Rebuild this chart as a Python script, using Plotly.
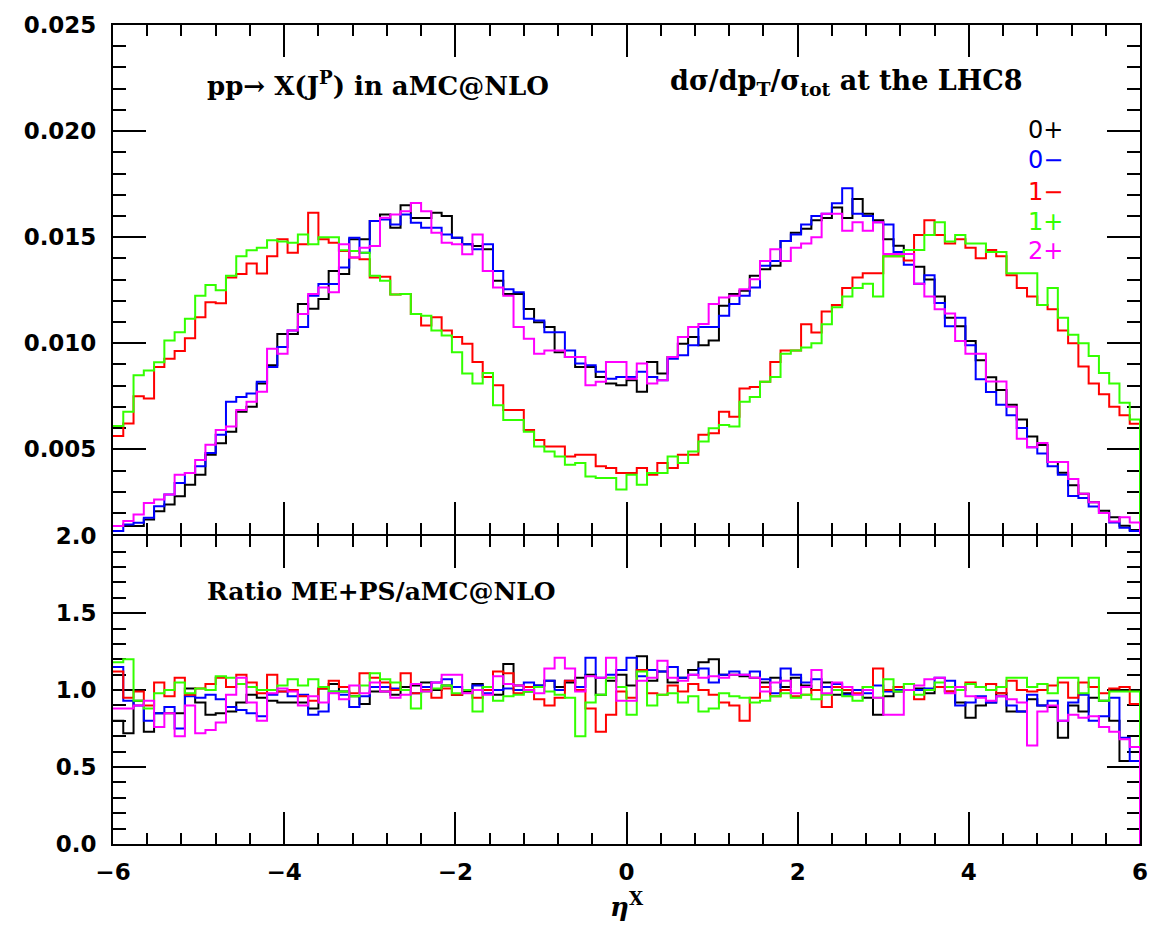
import numpy as np
import plotly.graph_objects as go
from plotly.subplots import make_subplots

# ---------------- data ----------------
ETA_MIN, ETA_MAX, NBINS = -6.0, 6.0, 100
SCALE_TOP = 1e-3  # top-panel values below are given in units of 1e-3

labels = ["0+", "0\u2212", "1\u2212", "1+", "2+"]
colors = ["#000000", "#0000ff", "#ff0000", "#33ff00", "#ff00ff"]

# d(sigma)/d(eta)/sigma_tot, aMC@NLO (x 1e-3), 100 bins from -6 to 6
top_0p = [1.38, 1.38, 1.38, 1.69, 2.08, 2.40, 2.79, 3.33, 3.80, 4.74, 5.29, 5.83, 6.77, 7.00, 8.10, 8.96, 10.44, 10.44, 11.85, 11.62,
          12.08, 13.41, 13.26, 14.90, 14.90, 15.76, 16.07, 15.44,
          16.50, 15.90, 15.90, 16.15, 16.00, 14.97, 14.66, 14.58, 14.43, 12.94, 12.32, 12.32, 11.61, 10.99, 10.76, 9.58, 9.35, 8.88,
          8.88, 8.41, 8.10, 8.02, 8.25, 7.71, 9.11, 8.57, 9.35, 9.97, 10.29, 9.90, 10.13, 11.77, 12.32, 12.47, 13.18, 13.49, 13.65,
          14.82, 15.21,
          15.4, 15.8, 15.9, 16.4, 15.9, 16.8, 16.1, 15.8, 14.9, 14.6, 14.2, 13.6, 13.0, 12.2, 11.2, 10.8, 10.1, 9.2, 8.4, 7.8, 7.1,
          6.4, 5.6, 5.2, 4.4, 3.9, 3.3, 2.9, 2.5, 2.1, 1.8, 1.4, 1.2]
top_0m = [1.15, 1.46, 1.54, 1.77, 2.32, 2.87, 3.41, 3.88, 4.20, 4.82, 5.68, 7.24, 7.47, 7.63, 8.18, 8.88, 9.82, 10.60, 10.76, 12.24,
          12.79, 12.79, 13.57, 14.97, 14.27, 15.76, 15.83, 15.60,
          16.07, 15.68, 15.44, 15.44, 15.13, 14.97, 14.66, 14.43, 14.66, 13.41, 12.55, 12.40, 11.15, 11.07, 10.52, 10.52, 9.66, 9.04,
          8.96, 8.65, 8.33, 8.41, 8.41, 8.65, 8.41, 8.25, 9.27, 9.43, 9.90, 10.76, 10.76, 11.30, 11.85, 12.24, 12.63, 13.65, 13.88,
          14.82, 15.13,
          15.6, 16.0, 16.1, 16.6, 17.3, 16.1, 16.0, 15.7, 15.6, 14.3, 13.7, 12.8, 13.2, 11.9, 10.8, 11.2, 9.9, 8.3, 7.7, 7.1, 6.6,
          6.0, 5.1, 4.8, 4.2, 3.8, 2.8, 2.7, 2.3, 2.0, 1.55, 1.3, 1.15]
top_1m = [5.63, 6.22, 7.50, 7.40, 8.88, 9.27, 9.63, 10.24, 11.22, 11.93, 11.88, 13.10, 13.26, 13.76, 13.29, 14.10, 14.90, 14.27,
          14.66, 16.15, 14.90, 14.74, 14.35, 14.04, 13.96, 13.10, 13.13, 12.30,
          12.32, 11.38, 10.83, 11.22, 10.60, 10.29, 9.97, 9.11, 8.41, 8.02, 6.85, 6.85, 5.91, 5.44, 5.13, 5.13, 4.66, 4.74, 4.74,
          4.20, 4.12, 3.88, 3.88, 4.12, 3.80, 4.35, 4.12, 4.74, 4.74, 5.68, 5.76, 6.77, 6.54, 7.86, 7.94, 8.18, 9.11, 9.66, 9.66,
          10.9, 10.5, 11.5, 11.8, 12.6, 13.1, 13.3, 13.3, 14.1, 14.1, 13.9, 15.1, 15.8, 15.1, 14.7, 14.9, 14.5, 14.0, 14.4, 14.1,
          13.2, 12.6, 12.2, 11.8, 11.6, 10.6, 10.0, 8.9, 8.1, 7.6, 7.0, 6.6, 6.2]
top_1p = [6.10, 6.77, 8.49, 8.72, 9.10, 10.13, 10.52, 11.15, 12.24, 12.75, 12.50, 13.18, 14.10, 14.38, 14.50, 14.85, 14.80, 14.74,
          15.13, 14.66, 15.00, 15.00, 14.38, 14.35, 14.27, 13.18, 12.94, 12.30,
          12.32, 11.38, 11.30, 10.60, 10.36, 9.58, 8.57, 8.10, 8.60, 7.08, 6.38, 6.38, 5.83, 5.13, 4.90, 4.66, 4.27, 4.35, 3.72,
          3.65, 3.65, 3.10, 3.80, 3.33, 3.88, 3.88, 4.66, 4.35, 4.90, 5.37, 5.99, 6.15, 6.07, 7.24, 7.47, 8.18, 8.41, 9.50, 9.66,
          9.8, 10.0, 10.9, 11.7, 12.2, 12.6, 12.8, 12.2, 14.1, 14.1, 14.4, 14.4, 15.1, 15.7, 14.8, 15.1, 14.7, 14.7, 14.3, 14.3,
          13.3, 13.3, 13.3, 11.8, 12.6, 11.2, 10.4, 10.0, 9.4, 8.6, 8.1, 7.2, 6.4]
top_2p = [1.38, 1.62, 1.93, 2.47, 2.63, 2.87, 3.80, 3.88, 4.50, 5.21, 5.91, 6.07, 6.85, 7.24, 7.71, 9.74, 9.50, 10.60, 11.38, 12.32,
          12.63, 12.40, 14.66, 14.04, 14.50, 14.58, 15.91, 16.07,
          16.22, 16.61, 16.22, 15.21, 14.74, 14.66, 14.19, 15.13, 13.41, 12.63, 12.24, 10.76, 10.21, 9.50, 9.66, 9.66, 9.35, 9.35,
          8.02, 8.18, 9.11, 9.11, 8.33, 9.04, 8.10, 8.25, 9.35, 10.29, 10.76, 10.91, 11.85, 12.16, 12.24, 12.55, 13.02, 13.88, 14.43,
          13.88, 14.50,
          14.7, 15.0, 16.1, 16.1, 15.3, 15.7, 15.3, 15.7, 14.2, 14.2, 14.2, 12.8, 12.2, 11.6, 11.4, 10.1, 9.5, 9.5, 8.2, 8.2, 7.0,
          5.5, 5.1, 5.3, 4.4, 4.4, 3.6, 2.9, 2.5, 2.0, 1.6, 1.8, 1.55]

# Ratio ME+PS / aMC@NLO
ratio_0p = [0.80, 0.72, 0.93, 0.73, 0.85, 0.85, 0.85, 1.01, 0.92, 0.84, 0.85, 0.86, 0.92, 0.97, 0.95, 0.93, 0.92, 0.92, 0.92, 0.88,
            1.01, 1.04, 0.99, 0.96, 0.91, 0.99, 0.99, 0.97,
            1.02, 1.03, 1.05, 1.00, 1.03, 0.97, 0.99, 1.04, 1.00, 0.97, 1.17, 1.03, 0.99, 1.03, 1.06, 1.02, 1.05, 1.08, 1.10, 0.97,
            1.06, 1.10, 1.03, 1.22, 1.06, 1.12, 1.05, 1.08, 1.13, 1.18, 1.20, 1.10, 1.10, 1.09, 1.08, 1.05, 1.08, 1.02, 1.08,
            1.03, 1.00, 1.05, 0.97, 0.98, 1.00, 0.95, 0.84, 0.96, 0.99, 1.00, 1.01, 0.98, 1.02, 0.99, 0.92, 0.82, 0.90, 0.92, 0.98,
            0.86, 0.86, 0.94, 0.90, 0.89, 0.69, 0.90, 0.86, 0.95, 0.93, 0.80, 0.54, 0.54]
ratio_0m = [1.15, 0.93, 0.90, 0.80, 0.85, 0.89, 0.75, 0.96, 0.95, 0.97, 0.94, 0.89, 0.87, 0.85, 0.83, 0.97, 0.99, 0.96, 0.97, 0.84,
            0.86, 0.99, 0.97, 0.89, 0.96, 1.02, 1.02, 1.01,
            1.00, 0.98, 1.02, 1.05, 1.07, 1.02, 1.00, 1.03, 0.98, 1.00, 1.01, 1.00, 1.05, 1.03, 1.06, 1.00, 1.06, 1.02, 1.21, 1.08,
            1.10, 1.13, 1.21, 1.09, 1.13, 1.12, 1.15, 1.08, 1.10, 1.14, 1.05, 1.10, 1.12, 1.10, 1.12, 1.07, 0.98, 1.14, 1.10,
            1.05, 1.07, 1.02, 1.04, 0.97, 1.00, 0.98, 1.03, 0.99, 1.00, 1.00, 1.00, 1.01, 1.08, 1.06, 0.90, 0.92, 0.96, 0.92, 0.96,
            0.90, 0.86, 0.97, 0.90, 0.93, 0.80, 0.92, 0.97, 0.80, 0.83, 0.95, 0.69, 0.54]
ratio_1m = [1.12, 0.95, 0.99, 0.90, 1.05, 0.96, 1.08, 0.97, 1.01, 1.04, 1.08, 1.02, 1.10, 1.05, 0.98, 1.10, 0.99, 1.00, 0.96, 0.93,
            1.01, 1.06, 1.02, 0.98, 1.11, 1.08, 1.05, 1.00,
            1.11, 0.98, 1.00, 0.95, 1.01, 0.97, 1.00, 0.95, 1.00, 1.12, 1.11, 0.98, 1.02, 0.94, 0.90, 0.95, 1.06, 1.00, 0.88, 0.73,
            0.84, 0.99, 0.95, 1.13, 0.98, 0.97, 1.03, 0.99, 1.04, 1.00, 0.97, 0.92, 0.90, 0.80, 0.95, 1.02, 0.96, 1.00, 0.96,
            0.97, 1.00, 0.89, 1.02, 1.00, 0.98, 1.02, 1.14, 1.00, 1.02, 1.00, 0.94, 1.00, 1.02, 0.99, 1.00, 1.05, 1.02, 1.04, 0.98,
            1.06, 1.00, 0.99, 1.00, 1.03, 1.05, 0.95, 1.05, 1.02, 0.98, 1.01, 1.02, 0.91]
ratio_1p = [1.18, 1.20, 0.93, 0.88, 0.98, 1.00, 1.05, 0.98, 1.01, 1.00, 1.09, 1.08, 1.04, 1.02, 1.00, 1.00, 1.03, 1.07, 1.03, 1.07,
            1.02, 0.99, 0.99, 0.96, 1.03, 1.11, 1.07, 1.05,
            1.00, 0.88, 0.99, 1.01, 1.03, 0.98, 1.00, 0.86, 1.02, 0.93, 0.96, 0.97, 0.99, 1.02, 0.99, 0.97, 0.95, 0.70, 0.92, 0.97,
            1.08, 1.02, 0.84, 1.12, 0.90, 0.97, 0.98, 0.92, 0.96, 0.86, 0.88, 0.98, 0.96, 0.95, 0.92, 0.93, 0.96, 0.98, 0.95,
            0.97, 0.94, 0.97, 1.00, 0.96, 0.93, 1.02, 0.95, 1.07, 0.99, 1.04, 0.97, 1.00, 1.05, 1.02, 1.00, 1.04, 1.02, 1.00, 1.02,
            1.08, 1.08, 1.02, 1.04, 0.98, 1.08, 1.08, 0.98, 1.08, 0.93, 0.99, 0.99, 0.99]
ratio_2p = [0.88, 0.88, 0.90, 0.93, 0.76, 0.85, 0.70, 0.90, 0.72, 0.74, 0.79, 0.97, 1.08, 0.92, 0.80, 0.98, 1.01, 0.99, 0.90, 0.96,
            0.92, 0.98, 0.94, 1.03, 0.98, 1.05, 0.99, 0.95,
            0.97, 1.04, 0.99, 1.05, 1.10, 1.10, 0.98, 1.00, 0.97, 1.09, 1.04, 1.03, 1.00, 0.98, 1.14, 1.21, 1.14, 0.99, 1.09, 1.08,
            1.21, 0.93, 0.93, 1.06, 1.08, 1.19, 1.08, 1.06, 1.10, 1.08, 1.09, 1.08, 1.10, 1.10, 1.08, 0.99, 1.05, 1.06, 0.98,
            1.02, 1.13, 0.98, 1.05, 1.02, 0.97, 1.00, 0.95, 0.84, 0.84, 1.00, 1.03, 1.07, 1.08, 0.98, 1.02, 0.96, 0.95, 0.93, 0.96,
            0.94, 0.92, 0.64, 0.86, 0.90, 0.80, 0.84, 0.82, 0.83, 0.76, 0.73, 0.68, 0.63]

top_series = [top_0p, top_0m, top_1m, top_1p, top_2p]
ratio_series = [ratio_0p, ratio_0m, ratio_1m, ratio_1p, ratio_2p]

# ---------------- figure ----------------
edges = np.linspace(ETA_MIN, ETA_MAX, NBINS + 1)


def step_xy(vals, scale=1.0):
    v = [float(a) * scale for a in vals]
    x = list(edges) + [ETA_MAX]
    y = v + [v[-1], 0.0]
    return x, y


fig = make_subplots(rows=2, cols=1, shared_xaxes=True, vertical_spacing=0,
                    row_heights=[0.6229, 0.3771])

for vals, col, lab in zip(top_series, colors, labels):
    x, y = step_xy(vals, SCALE_TOP)
    fig.add_trace(go.Scatter(x=x, y=y, mode="lines", line=dict(color=col, width=2, shape="hv"),
                             name=lab, showlegend=False), row=1, col=1)
for vals, col, lab in zip(ratio_series, colors, labels):
    x, y = step_xy(vals)
    fig.add_trace(go.Scatter(x=x, y=y, mode="lines", line=dict(color=col, width=2, shape="hv"),
                             name=lab, showlegend=False), row=2, col=1)

tickfont = dict(family="DejaVu Sans", size=23, color="black", weight="bold")
common = dict(showline=True, linecolor="black", linewidth=2, mirror="ticks", ticks="inside",
              tickcolor="black", tickwidth=2, showgrid=False, zeroline=False, layer="below traces",
              tickfont=tickfont)

xcommon = dict(common, range=[ETA_MIN, ETA_MAX], tick0=0, dtick=2, ticklen=32,
               minor=dict(tick0=0, dtick=0.4, ticklen=11, ticks="inside", tickcolor="black", tickwidth=2,
                          showgrid=False))
fig.update_xaxes(**xcommon, showticklabels=False, row=1, col=1)
fig.update_xaxes(**xcommon, showticklabels=True, ticklabelstandoff=6, row=2, col=1)

split = 0.3771
half_gap = 1.0 / 821.0
fig.update_yaxes(**common, domain=[split + half_gap, 1.0], range=[0.001, 0.025], tick0=0, dtick=0.005,
                 tickformat=".3f", ticklen=33, ticklabelstandoff=10,
                 minor=dict(tick0=0, dtick=0.001, ticklen=13, ticks="inside", tickcolor="black", tickwidth=2,
                            showgrid=False), row=1, col=1)
fig.update_yaxes(**common, domain=[0.0, split - half_gap], range=[0, 2], tick0=0, dtick=0.5,
                 tickformat=".1f", ticklen=33, ticklabelstandoff=10,
                 minor=dict(tick0=0, dtick=0.1, ticklen=13, ticks="inside", tickcolor="black", tickwidth=2,
                            showgrid=False), row=2, col=1)

serif = dict(family="DejaVu Serif", size=26, color="black", weight="bold")
annotations = [
    dict(x=-4.93, y=0.02222, xref="x", yref="y", xanchor="left", yanchor="middle",
         text="pp\u2192 X(J<sup>P</sup>) in aMC@NLO", showarrow=False, font=serif),
    dict(x=0.48, y=0.02231, xref="x", yref="y", xanchor="left", yanchor="middle",
         text="d\u03c3/dp<sub>T</sub>/\u03c3<sub>tot</sub> at the LHC8", showarrow=False,
         font=dict(serif, size=27)),
    dict(x=-4.93, y=1.64, xref="x2", yref="y2", xanchor="left", yanchor="middle",
         text="Ratio ME+PS/aMC@NLO", showarrow=False, font=dict(serif, size=25)),
    dict(x=0.0, y=-0.074, xref="x2", yref="paper", xanchor="center", yanchor="middle",
         text="<i>\u03b7</i><sup>X</sup>", showarrow=False,
         font=dict(family="DejaVu Serif", size=26, color="black", weight="bold")),
]
legend_y = [0.02007, 0.01866, 0.01711, 0.01570, 0.01435]
for lab, col, yy in zip(labels, colors, legend_y):
    annotations.append(dict(x=5.12, y=yy, xref="x", yref="y", xanchor="right", yanchor="middle",
                            text=lab, showarrow=False,
                            font=dict(family="DejaVu Sans", size=24, color=col)))

fig.update_layout(width=1161, height=925, margin=dict(l=113, r=21, t=23, b=81),
                  paper_bgcolor="white", plot_bgcolor="white", showlegend=False,
                  annotations=annotations)

fig.write_html("out.html")
